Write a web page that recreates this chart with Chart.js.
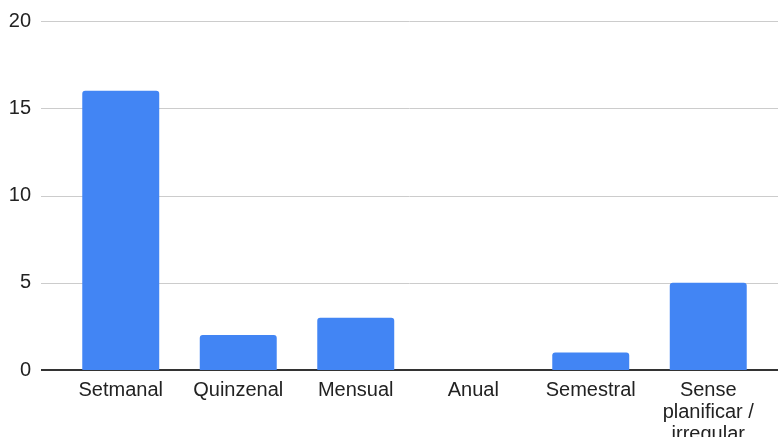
<!DOCTYPE html>
<html>
<head>
<meta charset="utf-8">
<script src="https://cdn.jsdelivr.net/npm/chart.js@4"></script>
<style>
  html, body { margin: 0; padding: 0; background: #ffffff; }
  #wrap { width: 778px; height: 437px; }
</style>
</head>
<body>
<div id="wrap"><canvas id="freqChart" width="778" height="437"></canvas></div>
<script>
// chart data
const categories = ["Setmanal", "Quinzenal", "Mensual", "Anual", "Semestral", ["Sense", "planificar /", "irregular"]];
const counts = [16, 2, 3, 0, 1, 5];
const yTicks = [0, 5, 10, 15, 20];

// horizontal grid lines run a bit wider than the bars' area
const wideGrid = {
    id: "wideGrid",
    beforeDatasetsDraw(chart) {
        const y = chart.scales.y;
        const ctx = chart.ctx;
        ctx.save();
        y.ticks.forEach(t => {
            const py = Math.round(y.getPixelForValue(t.value));
            ctx.beginPath();
            if (t.value === 0) {
                ctx.strokeStyle = "#333333";
                ctx.lineWidth = 2;
            } else {
                ctx.strokeStyle = "#cccccc";
                ctx.lineWidth = 1;
                ctx.translate(0, 0.5);
            }
            ctx.moveTo(41, py);
            ctx.lineTo(778, py);
            ctx.stroke();
            ctx.setTransform(1, 0, 0, 1, 0, 0);
        });
        ctx.restore();
    }
};

new Chart(document.getElementById("freqChart"), {
    type: "bar",
    data: {
        labels: categories,
        datasets: [{
            data: counts,
            backgroundColor: "#4285f4",
            borderRadius: 3,
            barPercentage: 0.655,
            categoryPercentage: 1
        }]
    },
    options: {
        responsive: false,
        animation: false,
        layout: {
            padding: { top: 21, right: 11, left: 0, bottom: 0 }
        },
        plugins: {
            legend: { display: false },
            tooltip: { enabled: false }
        },
        scales: {
            x: {
                grid: { display: false, drawTicks: false },
                border: { display: false },
                ticks: {
                    color: "#222222",
                    padding: 9,
                    maxRotation: 0,
                    autoSkip: false,
                    font: { family: "'Liberation Sans', Arial, sans-serif", size: 20, lineHeight: 1.1 }
                },
                afterFit: axis => {
                    axis.height = 67;
                    axis.paddingTop = 0;
                    axis.paddingBottom = 0;
                }
            },
            y: {
                min: 0,
                max: 20,
                grid: { display: false, drawTicks: false },
                border: { display: false },
                afterBuildTicks: axis => {
                    axis.ticks = yTicks.map(v => ({ value: v }));
                },
                ticks: {
                    color: "#222222",
                    padding: 31,
                    font: { family: "'Liberation Sans', Arial, sans-serif", size: 20 }
                },
                afterFit: axis => {
                    axis.width = 62;
                    axis.paddingTop = 0;
                    axis.paddingBottom = 0;
                }
            }
        }
    },
    plugins: [wideGrid]
});
</script>
</body>
</html>
